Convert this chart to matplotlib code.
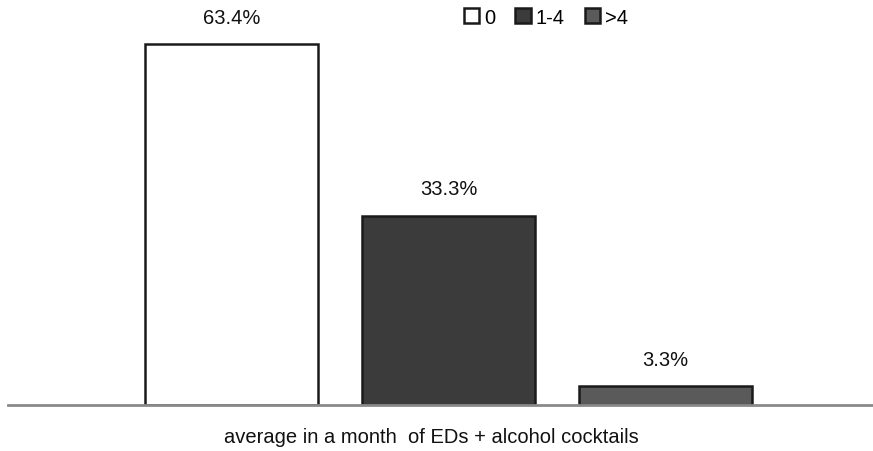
import matplotlib.pyplot as plt
from matplotlib.patches import Patch

plt.rcParams['font.family'] = ['Liberation Sans', 'DejaVu Sans']

categories = ['0', '1-4', '>4']
values = [63.4, 33.3, 3.3]
labels = ['63.4%', '33.3%', '3.3%']
colors = ['#ffffff', '#3b3b3b', '#5a5a5a']

fig = plt.figure(figsize=(8.73, 4.52), dpi=100)
ax = fig.add_axes([8 / 873, 46 / 452, 865 / 873, 398.3 / 452])

x = [0, 1, 2]
ax.bar(x, values, width=0.797, color=colors, edgecolor='#1a1a1a', linewidth=1.8, zorder=2)
for xi, v, lab in zip(x, values, labels):
    ax.text(xi, v + 4.75, lab, ha='center', va='center', fontsize=14.5, color='#111111')

ax.set_xlim(-1.03, 2.956)
ax.set_ylim(0, 70)
for s in ['top', 'right', 'left']:
    ax.spines[s].set_visible(False)
ax.spines['bottom'].set_color('#8a8a8a')
ax.spines['bottom'].set_linewidth(2)
ax.set_xticks([])
ax.set_yticks([])

fig.text(431 / 873, 1 - 438 / 452, 'average in a month  of EDs + alcohol cocktails',
         ha='center', va='center', fontsize=14.5, color='#111111')

handles = [Patch(facecolor=c, edgecolor='#1a1a1a', linewidth=1.8) for c in colors]
fig.legend(handles, categories, loc='center', bbox_to_anchor=(546 / 873, 1 - 18 / 452),
           ncol=3, frameon=False, fontsize=14.5, handlelength=0.75, handleheight=0.75,
           handletextpad=0.25, columnspacing=1.0)

fig.savefig('out.png', dpi=100)
